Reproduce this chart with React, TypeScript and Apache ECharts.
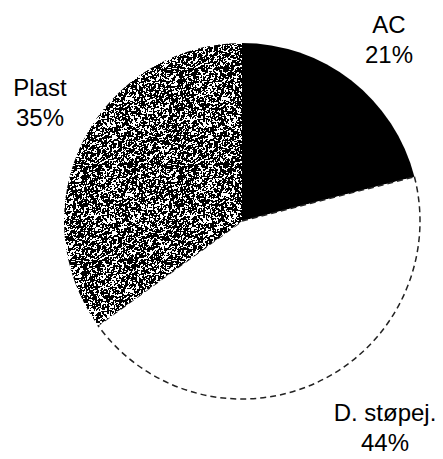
import React, { useEffect, useRef } from "react";
import * as echarts from "echarts";

const categories = ["AC", "D. støpej.", "Plast"];
const values = [21, 44, 35];

// label anchor points (pixel positions of the label blocks)
const labelPos: Array<[number, number]> = [
  [389, 39],
  [385, 427],
  [40, 102],
];

function makeNoiseTile(): HTMLCanvasElement {
  const size = 96;
  const c = document.createElement("canvas");
  c.width = size;
  c.height = size;
  const ctx = c.getContext("2d")!;
  ctx.fillStyle = "#ffffff";
  ctx.fillRect(0, 0, size, size);
  let s = 12345;
  const next = () => {
    s = (s * 1103515245 + 12345) & 0x7fffffff;
    return s / 0x7fffffff;
  };
  const g: number[] = [];
  for (let i = 0; i < size * size; i++) g.push(next());
  ctx.fillStyle = "#000000";
  for (let y = 0; y < size; y++) {
    for (let x = 0; x < size; x++) {
      const v =
        g[y * size + x] * 0.5 +
        (g[y * size + ((x + 1) % size)] + g[((y + 1) % size) * size + x]) * 0.25;
      if (v < 0.56) ctx.fillRect(x, y, 1, 1);
    }
  }
  return c;
}

export default function App() {
  const ref = useRef<HTMLDivElement>(null);
  useEffect(() => {
    if (!ref.current) return;
    const chart = echarts.init(ref.current, null, { renderer: "svg" });
    const tile = makeNoiseTile();
    const fills: any[] = [
      "#000000",
      "#ffffff",
      { image: tile, repeat: "repeat" },
    ];
    chart.setOption({
      animation: false,
      backgroundColor: "#ffffff",
      series: [
        {
          type: "pie",
          center: [242, 221],
          radius: 178,
          startAngle: 90,
          clockwise: true,
          silent: true,
          data: categories.map((name, i) => ({
            name,
            value: values[i],
            itemStyle:
              i === 1
                ? {
                    color: fills[i],
                    borderColor: "#222",
                    borderWidth: 1.5,
                    borderType: [6, 4],
                  }
                : { color: fills[i], borderWidth: 0 },
          })),
          label: {
            show: true,
            position: "outside",
            formatter: "{b}\n{d}%",
            color: "#000",
            fontFamily: "'Liberation Sans', Arial, sans-serif",
            fontSize: 24,
            lineHeight: 30,
            align: "center",
            overflow: "none",
            width: 200,
          },
          labelLine: { show: false },
          labelLayout: (p: any) => ({
            x: labelPos[p.dataIndex][0],
            y: labelPos[p.dataIndex][1],
            align: "center",
            verticalAlign: "middle",
          }),
        },
      ],
    });
    return () => chart.dispose();
  }, []);
  return (
    <div
      ref={ref}
      style={{ position: "fixed", left: 0, top: 0, width: 443, height: 459 }}
    />
  );
}
